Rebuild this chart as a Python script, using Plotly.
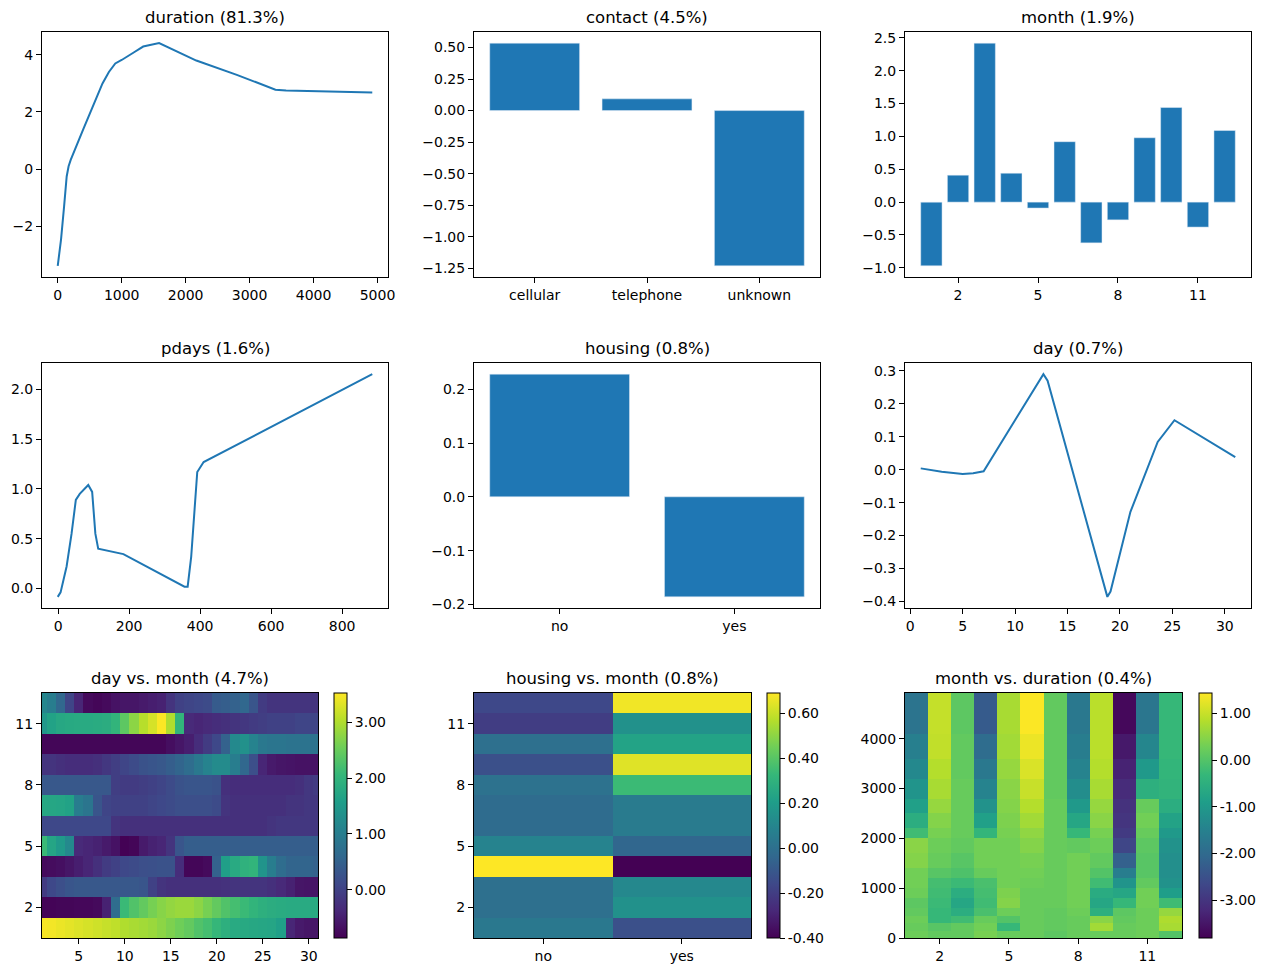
import plotly.graph_objects as go
from plotly.subplots import make_subplots

W, H = 1266, 972
OFF = 8  # default body margin of the html page
BLUE = "#1f77b4"
FONT = "DejaVu Sans"

# ---- 1-D partial dependence ----
duration_x = [0, 52, 100, 140, 170, 203, 400, 600, 700, 800, 900, 1000, 1100, 1200, 1336, 1585, 2167, 2800, 3404, 3570, 4918]
duration_y = [-3.39, -2.46, -1.3, -0.26, 0.1, 0.32, 1.4, 2.5, 3.0, 3.4, 3.7, 3.82, 3.95, 4.1, 4.29, 4.41, 3.80, 3.3, 2.78, 2.75, 2.68]

contact_cats = ["cellular", "telephone", "unknown"]
contact_vals = [0.535, 0.093, -1.232]

months = list(range(1, 13))
month_vals = [-0.97, 0.41, 2.42, 0.44, -0.09, 0.92, -0.62, -0.27, 0.98, 1.44, -0.38, 1.09]

pdays_x = [-1, 7, 24, 38, 50, 61, 85, 96, 105, 113, 184, 356, 365, 375, 392, 410, 885]
pdays_y = [-0.085, -0.04, 0.22, 0.55, 0.89, 0.95, 1.04, 0.97, 0.55, 0.40, 0.345, 0.017, 0.017, 0.32, 1.17, 1.27, 2.154]

housing_cats = ["no", "yes"]
housing_vals = [0.228, -0.186]

day_x = [1, 3, 5, 6, 7, 10, 12.7, 13.1, 18.8, 19.1, 21, 23.6, 25.2, 31]
day_y = [0.004, -0.006, -0.013, -0.011, -0.005, 0.15, 0.29, 0.27, -0.386, -0.37, -0.128, 0.084, 0.15, 0.038]

# ---- day vs. month (rows = month 1..12, columns = day 1..31) ----
days = list(range(1, 32))
day_month_z = [
    [3.48, 3.45, 3.4, 3.35, 3.3, 3.25, 3.2, 3.15, 3.1, 3.0, 2.95, 2.9, 2.85, 2.75, 2.65, 2.55, 2.45, 2.3, 2.2, 2.05, 1.9, 1.8, 1.78, 1.75, 1.72, 1.7, 1.6, -0.4, -0.55, -0.6, -0.6],
    [-0.82, -0.82, -0.8, -0.8, -0.78, -0.78, -0.75, -0.45, 0.7, 2.1, 2.3, 2.45, 2.6, 2.72, 2.8, 2.85, 2.85, 2.75, 2.6, 2.45, 2.3, 2.2, 2.1, 2.0, 1.9, 1.85, 1.82, 1.8, 1.8, 1.8, 1.8],
    [-0.1, 0.1, 0.2, 0.3, 0.35, 0.35, 0.35, 0.35, 0.35, 0.35, 0.35, 0.3, 0.0, -0.2, -0.25, -0.25, -0.25, -0.25, -0.25, -0.25, -0.22, -0.2, -0.2, -0.2, -0.2, -0.25, -0.35, -0.45, -0.6, -0.62, -0.62],
    [-0.75, -0.72, -0.68, -0.6, -0.5, -0.4, -0.25, -0.1, 0.0, 0.1, 0.15, 0.2, 0.22, 0.25, 0.25, -0.3, -0.8, -0.8, -0.75, 0.5, 1.6, 1.8, 1.95, 2.0, 1.4, 1.0, 0.7, 0.55, 0.55, 0.55, 0.5],
    [2.1, 1.7, 1.5, 1.2, -0.35, -0.4, -0.45, -0.55, -0.65, -0.85, -0.8, -0.55, -0.45, -0.4, -0.2, 0.3, 0.45, 0.45, 0.45, 0.45, 0.45, 0.45, 0.45, 0.45, 0.45, 0.45, 0.45, 0.45, 0.45, 0.45, 0.45],
    [0.1, 0.1, 0.1, 0.1, 0.1, 0.1, 0.1, 0.1, -0.2, -0.25, -0.25, -0.25, -0.25, -0.25, -0.25, -0.25, -0.25, -0.25, -0.25, -0.25, -0.25, -0.25, -0.25, -0.25, -0.25, -0.2, -0.15, -0.15, -0.15, -0.15, -0.15],
    [1.75, 1.72, 1.7, 1.65, 1.0, 0.85, 0.3, 0.05, 0.0, 0.0, 0.0, 0.0, 0.05, 0.1, 0.15, 0.2, 0.2, 0.2, 0.2, 0.15, -0.2, -0.25, -0.25, -0.25, -0.25, -0.25, -0.25, -0.2, -0.2, -0.15, -0.15],
    [0.35, 0.35, 0.35, 0.35, 0.35, 0.35, 0.35, 0.35, -0.05, -0.1, -0.1, -0.05, 0.0, 0.05, 0.15, 0.25, 0.3, 0.3, 0.3, 0.25, -0.25, -0.3, -0.3, -0.3, -0.3, -0.3, -0.3, -0.3, -0.25, -0.15, -0.1],
    [-0.2, -0.2, -0.25, -0.3, -0.3, -0.3, -0.25, -0.15, -0.05, 0.05, 0.15, 0.25, 0.3, 0.35, 0.45, 0.55, 0.7, 0.9, 1.1, 1.25, 1.25, 1.0, 0.6, 0.2, -0.4, -0.55, -0.6, -0.62, -0.65, -0.65, -0.65],
    [-0.8, -0.8, -0.8, -0.8, -0.8, -0.8, -0.8, -0.8, -0.8, -0.8, -0.8, -0.8, -0.8, -0.8, -0.7, -0.6, -0.5, -0.3, -0.1, 0.1, 0.5, 1.2, 1.35, 1.1, 0.9, 0.85, 0.85, 0.8, 0.8, 0.8, 0.8],
    [1.45, 1.65, 1.75, 1.78, 1.8, 1.8, 1.82, 1.85, 2.0, 2.4, 2.75, 3.05, 3.25, 3.5, 3.0, 2.0, -0.35, -0.4, -0.35, -0.3, -0.25, -0.2, -0.15, -0.1, -0.05, 0.0, 0.0, 0.0, 0.05, 0.05, 0.05],
    [1.15, 1.0, 0.6, 0.05, -0.4, -0.75, -0.8, -0.75, -0.65, -0.6, -0.6, -0.55, -0.5, -0.45, -0.2, 0.0, 0.05, 0.1, 0.15, 0.4, 0.45, 0.5, 0.6, 0.3, -0.1, -0.2, -0.2, -0.2, -0.2, -0.2, -0.2],
]

# ---- housing vs. month (rows = month 1..12, columns = no / yes) ----
housing_month_z = [
    [0.04, -0.13], [0.0, 0.15], [0.0, 0.11], [0.69, -0.40],
    [0.09, -0.04], [-0.02, 0.05], [-0.02, 0.05], [0.01, 0.34],
    [-0.13, 0.64], [0.0, 0.23], [-0.20, 0.15], [-0.16, 0.67],
]

# ---- month vs. duration (one column per month, values over duration bins) ----
duration_edges = [0, 150, 300, 450, 600, 800, 1000, 1200, 1400, 1700, 2000, 2200, 2500, 2800, 3200, 3600, 4100, 4918]
month_duration_cols = [
    [0.25, 0.2, 0.25, 0.15, 0.1, 0.25, 0.3, 0.3, 0.45, 0.5, -0.2, -0.55, -0.85, -1.1, -1.35, -1.55, -1.8],
    [0.15, 0.05, -0.3, -0.3, -0.25, -0.2, -0.15, 0.05, 0.2, 0.25, 0.35, 0.45, 0.6, 0.75, 0.85, 0.95, 0.98],
    [0.15, 0.15, -0.2, -0.55, -0.7, -0.55, -0.25, -0.05, 0.05, 0.15, 0.2, 0.2, 0.2, 0.2, 0.15, 0.15, 0.1],
    [0.35, 0.3, 0.2, -0.1, -0.2, -0.15, -0.1, 0.2, 0.3, 0.3, -0.35, -0.85, -1.15, -1.45, -1.7, -1.95, -2.3],
    [0.2, -0.3, 0.0, 0.25, 0.45, 0.4, 0.3, 0.3, 0.3, 0.3, 0.35, 0.4, 0.45, 0.5, 0.6, 0.7, 0.75],
    [0.2, 0.2, 0.2, 0.2, 0.2, 0.2, 0.25, 0.3, 0.35, 0.45, 0.55, 0.7, 0.85, 1.0, 1.15, 1.3, 1.42],
    [0.1, 0.15, 0.15, 0.15, 0.2, 0.2, 0.2, 0.2, 0.2, 0.2, 0.2, 0.2, 0.2, 0.15, 0.15, 0.15, 0.15],
    [0.2, 0.2, 0.2, 0.25, 0.3, 0.3, 0.3, 0.3, 0.3, 0.15, -0.3, -0.7, -1.0, -1.25, -1.45, -1.6, -1.7],
    [0.2, 0.7, 0.5, -0.5, -0.7, -0.6, -0.2, 0.0, 0.15, 0.25, 0.35, 0.5, 0.6, 0.75, 0.85, 0.9, 0.9],
    [0.2, 0.2, 0.15, 0.1, -0.3, -0.7, -1.1, -1.6, -2.2, -2.7, -2.9, -3.0, -3.05, -3.15, -3.3, -3.45, -3.7],
    [0.25, 0.25, 0.25, 0.25, 0.3, 0.3, 0.15, 0.05, 0.05, 0.1, 0.2, 0.3, 0.2, -0.5, -1.0, -1.4, -1.75],
    [0.0, 0.75, 0.8, 0.6, -0.2, -0.9, -1.15, -1.2, -1.2, -1.15, -1.0, -0.8, -0.55, -0.4, -0.35, -0.3, -0.3],
]

titles = [
    "duration (81.3%)", "contact (4.5%)", "month (1.9%)",
    "pdays (1.6%)", "housing (0.8%)", "day (0.7%)",
    "day vs. month (4.7%)", "housing vs. month (0.8%)", "month vs. duration (0.4%)",
]


def padded(lo, hi, frac=0.05):
    span = hi - lo
    return [lo - frac * span, hi + frac * span]


def fx(px):
    return (px - OFF) / W


def fy(px):
    return 1 - (px - OFF) / H


fig = make_subplots(rows=3, cols=3)

fig.add_trace(go.Scatter(x=duration_x, y=duration_y, mode="lines", line=dict(color=BLUE, width=2)), row=1, col=1)
fig.add_trace(go.Bar(x=contact_cats, y=contact_vals, marker_color=BLUE, width=0.8), row=1, col=2)
fig.add_trace(go.Bar(x=months, y=month_vals, marker_color=BLUE, width=0.8), row=1, col=3)
fig.add_trace(go.Scatter(x=pdays_x, y=pdays_y, mode="lines", line=dict(color=BLUE, width=2)), row=2, col=1)
fig.add_trace(go.Bar(x=housing_cats, y=housing_vals, marker_color=BLUE, width=0.8), row=2, col=2)
fig.add_trace(go.Scatter(x=day_x, y=day_y, mode="lines", line=dict(color=BLUE, width=2)), row=2, col=3)


def cbar(x_px, tickvals):
    return dict(
        x=fx(x_px), xanchor="left", y=fy(938), yanchor="bottom",
        len=245 / H, lenmode="fraction", thickness=13, thicknessmode="pixels",
        outlinewidth=1, outlinecolor="black", xpad=0, ypad=0,
        tickvals=tickvals, ticktext=["%.2f" % v for v in tickvals],
        ticks="outside", ticklen=5, tickcolor="black",
        tickfont=dict(family=FONT, size=14, color="black"),
    )


dm_min, dm_max = -0.86, 3.52
hm_min, hm_max = -0.40, 0.69
md_min, md_max = -3.81, 1.44

fig.add_trace(go.Heatmap(x=days, y=months, z=day_month_z, colorscale="Viridis",
                         zmin=dm_min, zmax=dm_max, colorbar=cbar(334, [0, 1, 2, 3])), row=3, col=1)
fig.add_trace(go.Heatmap(x=housing_cats, y=months, z=housing_month_z, colorscale="Viridis",
                         zmin=hm_min, zmax=hm_max,
                         colorbar=cbar(767, [-0.4, -0.2, 0.0, 0.2, 0.4, 0.6])), row=3, col=2)
md_z = [list(r) for r in zip(*month_duration_cols)]
fig.add_trace(go.Heatmap(x=months, y=duration_edges, z=md_z, colorscale="Viridis",
                         zmin=md_min, zmax=md_max,
                         colorbar=cbar(1199, [-3, -2, -1, 0, 1])), row=3, col=3)

# axes placement (pixels of the 1266x972 screenshot)
col_px = [(42, 388), (474, 820), (905, 1251)]
heat_px = [(42, 318), (474, 751), (905, 1182)]
row_px = [(32, 277), (363, 608), (693, 938)]

axis_style = dict(
    showline=True, mirror=True, linecolor="black", linewidth=1,
    ticks="outside", ticklen=5, tickwidth=1, tickcolor="black",
    showgrid=False, zeroline=False, automargin=False,
    tickfont=dict(family=FONT, size=14, color="black"),
)

annotations = []
for i in range(9):
    r, c = divmod(i, 3)
    xs = heat_px[c] if r == 2 else col_px[c]
    ys = row_px[r]
    n = "" if i == 0 else str(i + 1)
    fig.layout["xaxis" + n].update(domain=[fx(xs[0]), fx(xs[1])], **axis_style)
    fig.layout["yaxis" + n].update(domain=[fy(ys[1]), fy(ys[0])], **axis_style)
    annotations.append(dict(
        text=titles[i], x=fx((xs[0] + xs[1]) / 2), y=fy(ys[0]),
        xref="paper", yref="paper", xanchor="center", yanchor="bottom",
        yshift=3, showarrow=False, font=dict(family=FONT, size=16.5, color="black"),
    ))

fig.update_layout(
    xaxis=dict(range=padded(0, 4918), tickvals=[0, 1000, 2000, 3000, 4000, 5000]),
    yaxis=dict(range=padded(min(duration_y), max(duration_y)), tickvals=[-2, 0, 2, 4],
               ticktext=["\u22122", "0", "2", "4"]),
    xaxis2=dict(range=[-0.54, 2.54]),
    yaxis2=dict(range=padded(min(contact_vals), max(contact_vals)), tickformat=".2f", dtick=0.25),
    xaxis3=dict(range=[0.01, 12.99], tickvals=[2, 5, 8, 11]),
    yaxis3=dict(range=padded(min(month_vals), max(month_vals)), tickformat=".1f", dtick=0.5),
    xaxis4=dict(range=padded(-1, 885), tickvals=[0, 200, 400, 600, 800]),
    yaxis4=dict(range=padded(min(pdays_y), max(pdays_y)), tickformat=".1f", dtick=0.5),
    xaxis5=dict(range=[-0.49, 1.49]),
    yaxis5=dict(range=padded(min(housing_vals), max(housing_vals)), tickformat=".1f", dtick=0.1),
    xaxis6=dict(range=padded(1, 31), tickvals=[0, 5, 10, 15, 20, 25, 30]),
    yaxis6=dict(range=padded(min(day_y), max(day_y)), tickformat=".1f", dtick=0.1),
    xaxis7=dict(range=[1, 31], tickvals=[5, 10, 15, 20, 25, 30]),
    yaxis7=dict(range=[0.5, 12.5], tickvals=[2, 5, 8, 11]),
    xaxis8=dict(range=[-0.5, 1.5]),
    yaxis8=dict(range=[0.5, 12.5], tickvals=[2, 5, 8, 11]),
    xaxis9=dict(range=[0.5, 12.5], tickvals=[2, 5, 8, 11]),
    yaxis9=dict(range=[0, 4918], tickvals=[0, 1000, 2000, 3000, 4000]),
)

fig.update_layout(
    width=W, height=H, margin=dict(l=0, r=0, t=0, b=0, autoexpand=False),
    paper_bgcolor="white", plot_bgcolor="white",
    showlegend=False, annotations=annotations,
    font=dict(family=FONT, size=14, color="black"),
)

fig.write_html("out.html")
